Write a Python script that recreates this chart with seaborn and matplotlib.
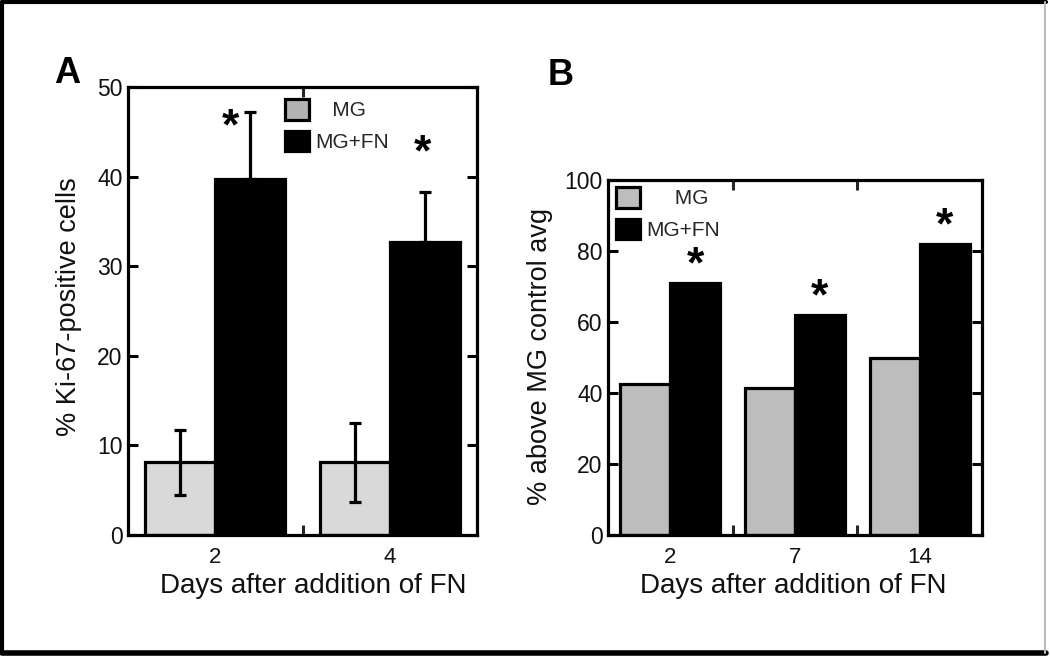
import matplotlib
matplotlib.use("Agg")
import matplotlib.pyplot as plt
from matplotlib.patches import Patch
from matplotlib.lines import Line2D
import seaborn as sns
import pandas as pd
import numpy as np

# ---------------- data ----------------
groups = ["MG", "MG+FN"]

a_days = ["2", "4"]
a_mg = [8.1, 8.1]
a_mgfn = [39.7, 32.7]
a_mg_err = [3.6, 4.4]
a_mgfn_err = [7.5, 5.6]

b_days = ["2", "7", "14"]
b_mg = [42.5, 41.5, 50.0]
b_mgfn = [71.0, 62.0, 82.0]

a_yticks = [0, 10, 20, 30, 40, 50]
b_yticks = [0, 20, 40, 60, 80, 100]

xlabel = "Days after addition of FN"
a_ylabel = "% Ki-67-positive cells"
b_ylabel = "% above MG control avg"

# ---------------- style ----------------
sns.set_theme(style="white")
plt.rcParams["font.family"] = ["Liberation Sans", "DejaVu Sans"]

W, H = 1050, 657
fig = plt.figure(figsize=(W / 100, H / 100), dpi=100)

def px_axes(l, t, r, b):
    return fig.add_axes([l / W, 1 - b / H, (r - l) / W, (b - t) / H])

axA = px_axes(128, 87, 477, 535)
axB = px_axes(608, 180, 982, 535)

SPINE = 2.3

def style_axes(ax, yticks, ncat):
    ax.set_ylim(yticks[0], yticks[-1])
    ax.set_xlim(-0.5, ncat - 0.5)
    ax.set_yticks(yticks)
    ax.set_xticks(np.arange(ncat + 0.0))
    ax.set_xticks(np.arange(ncat - 1) + 0.5, minor=True)
    for s in ax.spines.values():
        s.set_visible(True)
        s.set_color("black")
        s.set_linewidth(SPINE)
    ax.tick_params(axis="y", which="major", direction="in", left=True, right=True,
                   length=7, width=2.2, labelsize=16.5, pad=4, colors="black")
    ax.tick_params(axis="x", which="major", length=0, labelsize=16, pad=8.5)
    ax.tick_params(axis="x", which="minor", direction="in", bottom=True, top=True,
                   length=7, width=2.2)
    for lab in ax.get_yticklabels() + ax.get_xticklabels():
        lab.set_color("#111111")

# ---------------- Panel A ----------------
dfA = pd.DataFrame({
    "day": a_days * 2,
    "value": a_mg + a_mgfn,
    "group": [groups[0]] * len(a_days) + [groups[1]] * len(a_days),
})
sns.barplot(data=dfA, x="day", y="value", hue="group", order=a_days, hue_order=groups,
            palette={"MG": "#d9d9d9", "MG+FN": "black"}, width=0.8, gap=0,
            edgecolor="black", linewidth=2.3, errorbar=None, legend=False, ax=axA,
            saturation=1)
nA = len(a_days)
pA = axA.patches[: 2 * nA]
mg_x = [p.get_x() + p.get_width() / 2 for p in pA[:nA]]
fn_x = [p.get_x() + p.get_width() / 2 for p in pA[nA:]]
axA.errorbar(mg_x, a_mg, yerr=a_mg_err, fmt="none", ecolor="black",
             elinewidth=2.3, capsize=4, capthick=2.3, zorder=5)
axA.errorbar(fn_x, a_mgfn, yerr=[[0] * nA, a_mgfn_err], fmt="none", ecolor="black",
             elinewidth=2.3, capsize=4, capthick=2.3, zorder=5)
style_axes(axA, a_yticks, nA)
axA.set_xlabel(xlabel, fontsize=20, color="#111111")
axA.set_ylabel(a_ylabel, fontsize=19.5, color="#111111")
axA.xaxis.set_label_coords(0.53, -0.085)
axA.yaxis.set_label_coords(-0.132, 0.51)

# significance stars
star_kw = dict(ha="center", va="baseline", fontsize=32, fontweight="bold", color="black")
axA.text(fn_x[0] - 0.11, a_mgfn[0] + a_mgfn_err[0] - 3.0, "*", **star_kw)
axA.text(fn_x[1] - 0.01, a_mgfn[1] + a_mgfn_err[1] + 2.9, "*", **star_kw)

legA = axA.legend(
    handles=[Patch(facecolor="#b3b3b3", edgecolor="black", linewidth=2.3, label="   MG"),
             Patch(facecolor="black", edgecolor="black", linewidth=2.3, label="MG+FN")],
    loc="upper left", bbox_to_anchor=(285 / W, 1 - 99 / H), bbox_transform=fig.transFigure,
    frameon=False, fontsize=15, handlelength=1.15, handleheight=1.15,
    handletextpad=0.3, labelspacing=0.5, borderpad=0, borderaxespad=0)

fig.text(54 / W, 1 - 83 / H, "A", fontsize=26, fontweight="bold", color="black",
         ha="left", va="baseline")

# ---------------- Panel B ----------------
dfB = pd.DataFrame({
    "day": b_days * 2,
    "value": b_mg + b_mgfn,
    "group": [groups[0]] * len(b_days) + [groups[1]] * len(b_days),
})
sns.barplot(data=dfB, x="day", y="value", hue="group", order=b_days, hue_order=groups,
            palette={"MG": "#bdbdbd", "MG+FN": "black"}, width=0.8, gap=0,
            edgecolor="black", linewidth=2.3, errorbar=None, legend=False, ax=axB,
            saturation=1)
nB = len(b_days)
pB = axB.patches[: 2 * nB]
fnB_x = [p.get_x() + p.get_width() / 2 for p in pB[nB:]]
style_axes(axB, b_yticks, nB)
axB.set_xlabel(xlabel, fontsize=20, color="#111111")
axB.set_ylabel(b_ylabel, fontsize=19.5, color="#111111")
axB.xaxis.set_label_coords(0.495, -0.107)
axB.yaxis.set_label_coords(-0.147, 0.504)

for x, v in zip(fnB_x, b_mgfn):
    axB.text(x, v + 1.5, "*", **star_kw)

legB = axB.legend(
    handles=[Patch(facecolor="#bdbdbd", edgecolor="black", linewidth=2.3, label="     MG"),
             Patch(facecolor="black", edgecolor="black", linewidth=2.3, label="MG+FN")],
    loc="upper left", bbox_to_anchor=(616 / W, 1 - 187 / H), bbox_transform=fig.transFigure,
    frameon=False, fontsize=15, handlelength=1.15, handleheight=1.15,
    handletextpad=0.3, labelspacing=0.5, borderpad=0, borderaxespad=0)

fig.text(548 / W, 1 - 85 / H, "B", fontsize=26, fontweight="bold", color="black",
         ha="left", va="baseline")

# ---------------- figure frame ----------------
def fline(x0, y0, x1, y1, color, lw):
    fig.add_artist(Line2D([x0 / W, x1 / W], [1 - y0 / H, 1 - y1 / H], color=color,
                          linewidth=lw, transform=fig.transFigure))

fline(2, 2, 1046, 2, "black", 3)
fline(2, 653, 1046, 653, "black", 4)
fline(2, 2, 2, 653, "black", 3)
fline(1045, 2, 1045, 653, "#bbbbbb", 1.5)

fig.savefig("out.png", dpi=100, facecolor="white")
